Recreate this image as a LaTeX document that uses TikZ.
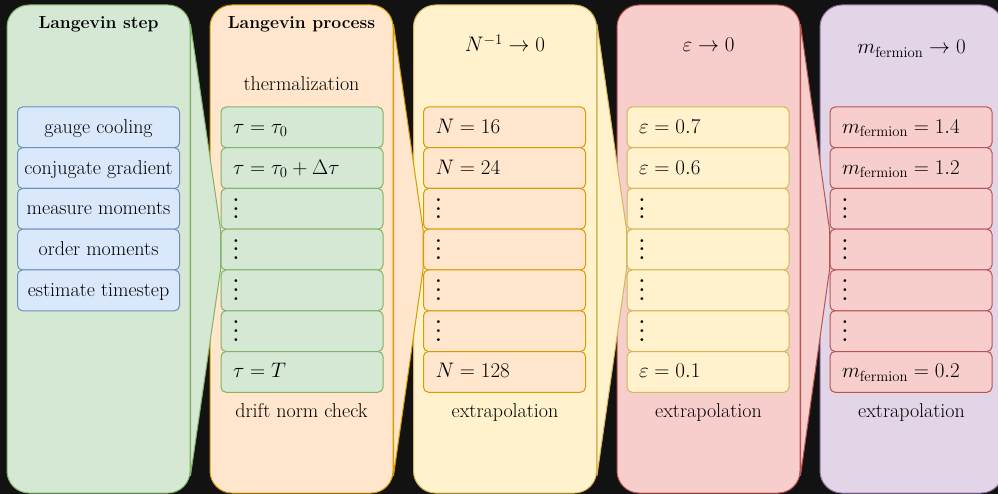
\RequirePackage{fix-cm}
\documentclass[tikz,border=0pt]{standalone}
\usetikzlibrary{calc}
\definecolor{bgc}{HTML}{121212}
\definecolor{gF}{HTML}{D5E8D4}\definecolor{gS}{HTML}{82B366}
\definecolor{oF}{HTML}{FFE6CC}\definecolor{oS}{HTML}{D79B00}
\definecolor{yF}{HTML}{FFF2CC}\definecolor{yS}{HTML}{D6B656}
\definecolor{rF}{HTML}{F8CECC}\definecolor{rS}{HTML}{B85450}
\definecolor{pF}{HTML}{E1D5E7}\definecolor{pS}{HTML}{9673A6}
\definecolor{bF}{HTML}{DAE8FC}\definecolor{bS}{HTML}{6C8EBF}
\newcommand{\vdot}{\hbox{\scalebox{1.8}{\fontsize{10}{10}\selectfont\bfseries.}}}
\newcommand{\vd}{\raisebox{-4pt}{\vbox{\baselineskip=8.7pt\lineskiplimit=-20pt\vdot\vdot\vdot}}}
\newcommand{\myTxt}{\fontsize{20}{24}\selectfont}
\newcommand{\myMath}{\fontsize{21}{25}\selectfont}
\newcommand{\myBold}{\bfseries\fontsize{17.5}{21}\selectfont}
\begin{document}
\begin{tikzpicture}[x=1pt,y=-1pt,
  colbox/.style={draw=#1S, fill=#1F, line width=1pt, rounded corners=22pt,
    minimum width=183pt, minimum height=488pt, inner sep=0pt},
  rowbox/.style={draw=#1S, fill=#1F, line width=1pt, rounded corners=5pt,
    minimum width=162pt, minimum height=40.75pt, inner ysep=0pt,
    text height=16pt, text depth=4pt},
  rowc/.style={rowbox=#1, inner xsep=0pt, font=\myTxt},
  rowl/.style={rowbox=#1, inner xsep=12pt, text width=138pt, align=left, font=\myMath},
  zoomp/.style={draw=#1S, fill=#1F, line width=1pt, line join=round},
  title/.style={font=\myBold, text=black},
  mtitle/.style={font=\myMath, anchor=base, text=black},
  lbl/.style={font=\myTxt, anchor=base, text=black}]
\clip (0,0) rectangle (998,494);
\fill[bgc] (0,0) rectangle (998,494);

% column 1
\node[colbox=g] (col1) at (98.5,249) {};
\node[title] (t1) at (98.5,24) {Langevin step};
\foreach \t [count=\k from 0] in {gauge cooling, conjugate gradient, measure moments, order moments, estimate timestep}
  \node[rowc=b] (a\k) at (98.5,127.375+40.75*\k) {\t};

% column 2
\node[colbox=o] (col2) at (301.5,249) {};
\node[title] (t2) at (301.5,24) {Langevin process};
\node[lbl] (s2) at (301.5,91) {thermalization};
\node[lbl] (u2) at (301.5,417) {drift norm check};
\draw[zoomp=g] ($(col1.north east)+(0,20)$) -- ($(col2.west)+(11,-19.75)$) -- ($(col2.west)+(11,21)$) -- ($(col1.south east)+(0,-18)$) -- cycle;
\foreach \t [count=\k from 0] in {{$\tau=\tau_0$}, {$\tau=\tau_0+\Delta\tau$}, {\vd}, {\vd}, {\vd}, {\vd}, {$\tau=T$}}
  \node[rowl=g] (b\k) at (302,127.375+40.75*\k) {\t};

% column 3
\node[colbox=y] (col3) at (505,249) {};
\node[mtitle] (t3) at (505,52) {$N^{-1}\to 0$};
\node[lbl] (u3) at (505,417) {extrapolation};
\draw[zoomp=o] ($(col2.north east)+(0,20)$) -- ($(col3.west)+(10,-19.75)$) -- ($(col3.west)+(10,21)$) -- ($(col2.south east)+(0,-18)$) -- cycle;
\foreach \t [count=\k from 0] in {{$N=16$}, {$N=24$}, {\vd}, {\vd}, {\vd}, {\vd}, {$N=128$}}
  \node[rowl=o] (c\k) at (504.5,127.375+40.75*\k) {\t};

% column 4
\node[colbox=r] (col4) at (708.5,249) {};
\node[mtitle] (t4) at (708.5,52) {$\varepsilon\to 0$};
\node[lbl] (u4) at (708.5,417) {extrapolation};
\draw[zoomp=y] ($(col3.north east)+(0,20)$) -- ($(col4.west)+(10,-19.75)$) -- ($(col4.west)+(10,21)$) -- ($(col3.south east)+(0,-18)$) -- cycle;
\foreach \t [count=\k from 0] in {{$\varepsilon=0.7$}, {$\varepsilon=0.6$}, {\vd}, {\vd}, {\vd}, {\vd}, {$\varepsilon=0.1$}}
  \node[rowl=y] (d\k) at (708,127.375+40.75*\k) {\t};

% column 5
\node[colbox=p] (col5) at (911.5,249) {};
\node[mtitle] (t5) at (911.5,54) {$m_{\mathrm{fermion}}\to 0$};
\node[lbl] (u5) at (911.5,417) {extrapolation};
\draw[zoomp=r] ($(col4.north east)+(0,20)$) -- ($(col5.west)+(10,-19.75)$) -- ($(col5.west)+(10,21)$) -- ($(col4.south east)+(0,-18)$) -- cycle;
\foreach \t [count=\k from 0] in {{$m_{\mathrm{fermion}}=1.4$}, {$m_{\mathrm{fermion}}=1.2$}, {\vd}, {\vd}, {\vd}, {\vd}, {$m_{\mathrm{fermion}}=0.2$}}
  \node[rowl=r] (e\k) at (911,127.375+40.75*\k) {\t};
\end{tikzpicture}
\end{document}
